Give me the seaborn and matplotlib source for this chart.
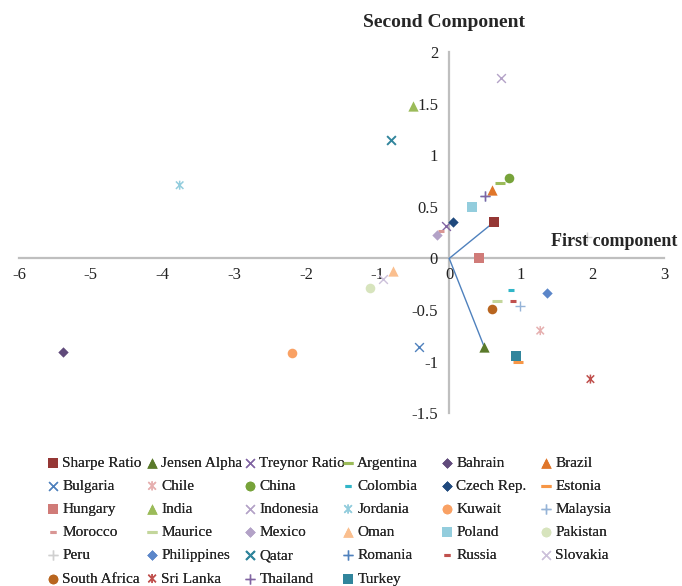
import numpy as np
import pandas as pd
import seaborn as sns
import matplotlib.pyplot as plt
from matplotlib.path import Path

# items, in legend order
names = ["Sharpe Ratio", "Jensen Alpha", "Treynor Ratio", "Argentina", "Bahrain", "Brazil",
         "Bulgaria", "Chile", "China", "Colombia", "Czech Rep.", "Estonia",
         "Hungary", "India", "Indonesia", "Jordania", "Kuwait", "Malaysia",
         "Morocco", "Maurice", "Mexico", "Oman", "Poland", "Pakistan",
         "Peru", "Philippines", "Qatar", "Romania", "Russia", "Slovakia",
         "South Africa", "Sri Lanka", "Thailand", "Turkey"]
first_comp = [0.62, 0.49, -0.04, 0.71, -5.39, 0.60,
              -0.42, 1.27, 0.83, 0.86, 0.05, 0.96,
              0.41, -0.51, 0.72, -3.76, -2.20, 0.99,
              -0.11, 0.66, -0.17, -0.78, 0.32, -1.10,
              1.92, 1.36, -0.81, 0.50, 0.89, -0.92,
              0.59, 1.97, 0.50, 0.93]
second_comp = [0.35, -0.86, 0.31, 0.73, -0.91, 0.66,
               -0.86, -0.70, 0.78, -0.31, 0.35, -1.00,
               0.00, 1.48, 1.75, 0.71, -0.92, -0.46,
               0.27, -0.41, 0.23, -0.12, 0.50, -0.29,
               0.21, -0.34, 1.15, 0.61, -0.41, -0.20,
               -0.49, -1.17, 0.61, -0.95]
x_ticks = [-6, -5, -4, -3, -2, -1, 0, 1, 2, 3]
y_ticks = [-1.5, -1, -0.5, 0, 0.5, 1, 1.5, 2]

df = pd.DataFrame({"name": names, "pc1": first_comp, "pc2": second_comp})

colors = ["#953735", "#5a7a2a", "#8064a2", "#9bbb59", "#604a7b", "#e0762a",
          "#4f81bd", "#e6b0b0", "#77a33a", "#31b6c8", "#1f497d", "#f79646",
          "#d07b78", "#9bbb59", "#b3a2c7", "#93cddd", "#f9a164", "#95b3d7",
          "#d99694", "#c3d69b", "#b3a2c7", "#fabf8f", "#93cddd", "#d7e4bd",
          "#d0d0d0", "#5b86c9", "#31859c", "#4f81bd", "#c0504d", "#ccc1da",
          "#b8651f", "#c0504d", "#8064a2", "#31859c"]

star = Path([(-1, -1), (1, 1), (-1, 1), (1, -1), (0, -1.2), (0, 1.2)],
            [Path.MOVETO, Path.LINETO, Path.MOVETO, Path.LINETO, Path.MOVETO, Path.LINETO])
marker_of = {
    "s": ["Sharpe Ratio", "Hungary", "Poland", "Turkey"],
    "^": ["Jensen Alpha", "Brazil", "India", "Oman"],
    "x": ["Treynor Ratio", "Bulgaria", "Indonesia", "Qatar", "Slovakia"],
    "star": ["Chile", "Jordania", "Sri Lanka"],
    "long_dash": ["Argentina", "Estonia", "Maurice"],
    "short_dash": ["Colombia", "Morocco", "Russia"],
    "D": ["Bahrain", "Czech Rep.", "Mexico", "Philippines"],
    "o": ["China", "Kuwait", "Pakistan", "South Africa"],
    "+": ["Malaysia", "Peru", "Romania", "Thailand"],
}
kind = {n: k for k, lst in marker_of.items() for n in lst}


def main():
    sns.set_style("white")
    plt.rcParams["font.family"] = ["Liberation Serif", "DejaVu Serif"]
    plt.rcParams["axes.unicode_minus"] = False

    fig = plt.figure(figsize=(6.82, 5.86), dpi=100)
    ax = fig.add_axes([0.028, 0.295, 0.946, 0.616])

    # loading lines from origin
    for nm in ["Sharpe Ratio", "Jensen Alpha"]:
        row = df[df["name"] == nm].iloc[0]
        ax.plot([0, row["pc1"]], [0, row["pc2"]], color="#4f81bd", lw=1, zorder=1)

    handles = {}
    for i, row in df.iterrows():
        k = kind[row["name"]]
        c = colors[i]
        d = df.iloc[[i]]
        if k in ("s", "^", "o", "D"):
            size = {"s": 55, "^": 55, "o": 48, "D": 28}[k]
            sns.scatterplot(data=d, x="pc1", y="pc2", marker=k, s=size, color=c,
                            edgecolor=c, linewidth=0, ax=ax, label=row["name"], zorder=3)
        elif k == "star":
            sns.scatterplot(data=d, x="pc1", y="pc2", marker=star, s=42, facecolor="none",
                            edgecolor=c, linewidth=1.1, ax=ax, label=row["name"], zorder=3)
        elif k == "long_dash":
            sns.scatterplot(data=d, x="pc1", y="pc2", marker="_", s=50, color=c,
                            linewidth=2.2, ax=ax, label=row["name"], zorder=3)
        elif k == "short_dash":
            sns.scatterplot(data=d, x="pc1", y="pc2", marker="_", s=20, color=c,
                            linewidth=2.2, ax=ax, label=row["name"], zorder=3)
        else:
            size = 40 if k == "x" else 55
            lw = 1.4 if row["name"] == "Qatar" else 1.0
            sns.scatterplot(data=d, x="pc1", y="pc2", marker=k, s=size, color=c,
                            linewidth=lw, ax=ax, label=row["name"], zorder=3)
        handles[row["name"]] = ax.collections[-1]

    ax.set_xlim(-6, 3)
    ax.set_ylim(-1.5, 2)
    ax.set_xticks(x_ticks)
    ax.set_yticks(y_ticks)
    ax.set_xticklabels([f"{v:g}" for v in x_ticks])
    ax.set_yticklabels([f"{v:g}" for v in y_ticks])
    ax.tick_params(axis="both", length=0, labelsize=12, colors="#222222")
    ax.tick_params(axis="x", pad=6)
    ax.tick_params(axis="y", pad=8)
    for side in ["top", "right"]:
        ax.spines[side].set_visible(False)
    for side in ["left", "bottom"]:
        ax.spines[side].set_position(("data", 0))
        ax.spines[side].set_color("#bfbfbf")
        ax.spines[side].set_linewidth(1.6)
        ax.spines[side].set_zorder(0)
    ax.set_xlabel("")
    ax.set_ylabel("")
    ax.legend_.remove()

    ax.text(-0.07, 2.29, "Second Component", ha="center", va="center",
            fontsize=14, fontweight="bold", clip_on=False)
    ax.text(3.18, 0.16, "First component", ha="right", va="center",
            fontsize=13, fontweight="bold", clip_on=False)

    # legend: six columns, filled row by row
    col_x = [53, 152, 250, 348, 447, 546]
    for j in range(6):
        col_names = names[j::6]
        leg = fig.legend([handles[n] for n in col_names], col_names,
                         loc="upper left", bbox_to_anchor=((col_x[j] - 6) / 682, 1 - 456 / 586),
                         frameon=False, borderpad=0, borderaxespad=0, fontsize=11,
                         handlelength=0.8, handletextpad=0.2, labelspacing=0.62,
                         scatterpoints=1)
        fig.add_artist(leg)

    fig.savefig("out.png", dpi=100)
    plt.close(fig)


if __name__ == "__main__":
    main()
